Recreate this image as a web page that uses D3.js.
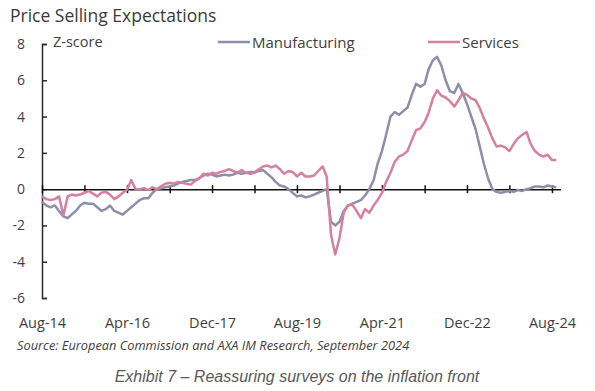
<!DOCTYPE html>
<html>
<head>
<meta charset="utf-8">
<script src="https://cdn.jsdelivr.net/npm/d3@7"></script>
<style>
  html, body { margin: 0; padding: 0; background: #fff; }
  svg { display: block; }
  text { font-family: "Open Sans", "Noto Sans", sans-serif; fill: #404040; }
</style>
</head>
<body>
<svg id="chart" width="595" height="391"></svg>
<script>
// ---- Data (monthly, Aug-2014 .. Sep-2024), z-scores ----
const startYear = 2014, startMonth = 7; // Aug (0-based month)
const manufacturing = [
  -0.7, -0.9, -1.0, -0.9, -1.2, -1.5, -1.6, -1.4, -1.2, -0.9,
  -0.75, -0.8, -0.8, -1.0, -1.2, -1.1, -0.9, -1.2, -1.3, -1.4,
  -1.2, -1.0, -0.8, -0.6, -0.5, -0.5, -0.2, 0.0, 0.05, 0.1,
  0.15, 0.2, 0.3, 0.4, 0.45, 0.5, 0.5, 0.6, 0.75, 0.85,
  0.8, 0.7, 0.75, 0.8, 0.75, 0.8, 0.9, 0.85, 0.9, 0.95,
  0.95, 1.0, 1.05, 0.85, 0.65, 0.4, 0.2, 0.15, 0.0, -0.2,
  -0.4, -0.35, -0.45, -0.4, -0.3, -0.2, -0.1, 0.0, -1.8, -2.0,
  -1.8, -1.2, -0.9, -0.8, -0.7, -0.6, -0.35, 0.0, 0.5, 1.4,
  2.1, 3.0, 4.0, 4.25, 4.1, 4.3, 4.5, 5.2, 5.8, 5.65,
  5.8, 6.6, 7.1, 7.3, 6.8, 6.0, 5.4, 5.3, 5.8, 5.3,
  4.7, 4.0, 3.3, 2.4, 1.4, 0.6, 0.0, -0.15, -0.2, -0.15,
  -0.1, -0.15, -0.05, -0.1, 0.0, 0.05, 0.15, 0.15, 0.1, 0.2,
  0.15, 0.1
];
const services = [
  -0.4, -0.55, -0.6, -0.55, -0.4, -1.45, -0.4, -0.3, -0.35, -0.3,
  -0.2, -0.1, -0.25, -0.4, -0.2, -0.15, -0.3, -0.55, -0.4, -0.2,
  -0.05, 0.5, 0.0, 0.0, 0.05, -0.05, 0.1, 0.0, 0.15, 0.3,
  0.35, 0.3, 0.4, 0.35, 0.3, 0.25, 0.45, 0.6, 0.85, 0.75,
  0.9, 0.85, 0.95, 1.0, 1.1, 1.0, 0.9, 1.05, 0.9, 0.85,
  0.9, 1.1, 1.25, 1.3, 1.2, 1.3, 1.1, 0.85, 1.0, 0.95,
  0.7, 0.9, 0.7, 0.7, 0.75, 1.0, 1.25, 0.7, -2.5, -3.6,
  -2.7, -1.3, -0.9, -0.85, -1.2, -1.6, -1.1, -1.3, -0.9, -0.6,
  -0.2, 0.4, 0.9, 1.5, 1.8, 1.9, 2.1, 2.7, 3.25, 3.35,
  3.7, 4.2, 5.0, 5.45, 5.15, 5.05, 4.85, 4.55, 4.9, 5.3,
  5.2, 5.0, 4.9, 4.5, 3.9, 3.4, 2.8, 2.35, 2.4, 2.3,
  2.1, 2.5, 2.8, 3.0, 3.15, 2.5, 2.1, 1.9, 1.8, 1.9,
  1.6, 1.6
];
const seriesNames = ["Manufacturing", "Services"];
const seriesColors = ["#8e8dab", "#d5819e"];
const xTickLabels = ["Aug-14", "Apr-16", "Dec-17", "Aug-19", "Apr-21", "Dec-22", "Aug-24"];
const yTicks = [-6, -4, -2, 0, 2, 4, 6, 8];

const dates = manufacturing.map((_, i) => new Date(startYear, startMonth + i, 1));

// ---- Layout ----
const svg = d3.select("#chart");
const plot = { left: 42, top: 44, bottom: 298 };

const x = d3.scaleTime()
  .domain([new Date(startYear, startMonth, 1), new Date(startYear, startMonth + 122, 1)])
  .range([plot.left, 560.5]);
const y = d3.scaleLinear().domain([-6, 8]).range([plot.bottom, plot.top]);

const minorTicks = d3.range(0, 121, 10).map(m => new Date(startYear, startMonth + m, 1));
const labelTicks = d3.range(0, 121, 20).map(m => new Date(startYear, startMonth + m, 1));

// Title
svg.append("text").attr("x", 10).attr("y", 22)
  .style("font-size", "17.5px").style("fill", "#3a3a3a")
  .text("Price Selling Expectations");

// Y axis
const yAxis = d3.axisLeft(y).tickValues(yTicks).tickSizeInner(-5).tickSizeOuter(-5).tickPadding(17)
  .tickFormat(d => String(d));
const gy = svg.append("g").attr("transform", `translate(${plot.left},0)`).call(yAxis);
gy.selectAll("path, line").attr("stroke", "#2a2a2a").attr("stroke-width", 1.5);
gy.selectAll("text").style("font-size", "14px").style("fill", "#404040")
  .style("font-family", '"Open Sans", sans-serif');

// Z-score label
svg.append("text").attr("x", 53).attr("y", 47).style("font-size", "14.5px").text("Z-score");

// Zero axis with crossing ticks
const xAxis = d3.axisBottom(x).tickValues(minorTicks).tickSize(4).tickSizeOuter(0).tickFormat("");
const gx = svg.append("g").attr("transform", `translate(0,${y(0)})`).call(xAxis);
gx.selectAll("path, line").attr("stroke", "#111").attr("stroke-width", 1.5);
gx.selectAll(".tick line").attr("y1", -4);

// Bottom labels
const xLab = d3.axisBottom(x).tickValues(labelTicks).tickSize(0).tickPadding(0)
  .tickFormat((d, i) => xTickLabels[i]);
const gl = svg.append("g").attr("transform", "translate(0,318)").call(xLab);
gl.select(".domain").remove();
gl.selectAll("text").style("font-size", "14.5px").style("fill", "#404040")
  .style("font-family", '"Open Sans", sans-serif');

// Lines
const line = d3.line().x((d, i) => x(dates[i])).y(d => y(d));
[manufacturing, services].forEach((s, k) => {
  svg.append("path").datum(s)
    .attr("fill", "none").attr("stroke", seriesColors[k]).attr("stroke-width", 2.5)
    .attr("stroke-linejoin", "round").attr("d", line);
});

// Legend
const legend = [{ x: 218, name: seriesNames[0], c: seriesColors[0] }, { x: 428, name: seriesNames[1], c: seriesColors[1] }];
legend.forEach(l => {
  svg.append("line").attr("x1", l.x).attr("x2", l.x + 32).attr("y1", 42).attr("y2", 42)
    .attr("stroke", l.c).attr("stroke-width", 2.5);
  svg.append("text").attr("x", l.x + 34).attr("y", 47.5).style("font-size", "15px").text(l.name);
});

// Source
svg.append("text").attr("x", 17).attr("y", 350).style("font-size", "12.8px").style("font-style", "italic")
  .text("Source: European Commission and AXA IM Research, September 2024");

// Caption
svg.append("text").attr("x", 297).attr("y", 382).attr("text-anchor", "middle")
  .style("font-size", "16px").style("font-style", "italic").style("fill", "#595959")
  .style("font-family", '"Liberation Sans", Arial, sans-serif')
  .text("Exhibit 7 – Reassuring surveys on the inflation front");
</script>
</body>
</html>
